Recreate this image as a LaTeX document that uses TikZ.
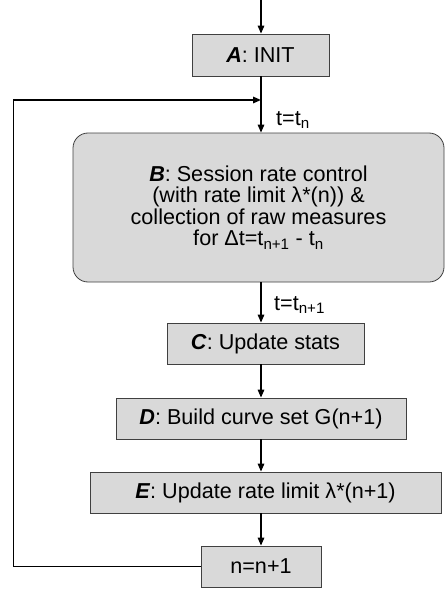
\documentclass[tikz,border=0pt]{standalone}
\usepackage{fontspec}
\setmainfont{Liberation Sans}
\usetikzlibrary{arrows.meta}
\begin{document}
\begin{tikzpicture}[x=1pt,y=-1pt,
  box/.style={draw=black!75,line width=0.8pt,fill=black!15,inner sep=0pt,align=center,
    font=\fontsize{21.6}{21.5}\selectfont},
  lbl/.style={inner sep=0pt,anchor=west,font=\fontsize{21.6}{21.5}\selectfont},
  arr/.style={line width=1.5pt,-{Triangle[length=8pt,width=6.5pt]}},
  loopline/.style={line width=1pt}]
\useasboundingbox (0,0) rectangle (446,591);
\coordinate (X) at (261,0);
\node[box,minimum width=137pt,minimum height=42pt] (A) at (260.5,55) {\textbf{\textit{A}}: INIT};
\node[box,rounded corners=15pt,minimum width=371pt,minimum height=149pt] (B) at (258.5,207.5)
  {\textbf{\textit{B}}: Session rate control\\(with rate limit λ*(n)) \&\\collection of raw measures\\for Δt=t\textsubscript{n+1} - t\textsubscript{n}};
\node[box,minimum width=197pt,minimum height=41pt] (C) at (265.5,343.5) {\textbf{\textit{C}}: Update stats};
\node[box,minimum width=290pt,minimum height=41pt] (D) at (261,418.5) {\textbf{\textit{D}}: Build curve set G(n+1)};
\node[box,minimum width=351pt,minimum height=41pt] (E) at (265.5,492.5) {\textbf{\textit{E}}: Update rate limit λ*(n+1)};
\node[box,minimum width=120pt,minimum height=41pt] (N) at (261,566.5) {n=n+1};
\node[lbl] (tn) at (276,120) {t=t\textsubscript{n}};
\node[lbl] (tn1) at (274,305) {t=t\textsubscript{n+1}};
\coordinate (J) at (261,100);
\coordinate (L1) at (13,100);
\draw[arr] (X) -- (A.north -| X);
\draw[arr] (A.south -| X) -- (B.north -| X);
\draw[arr] (B.south -| X) -- (C.north -| X);
\draw[arr] (C.south -| X) -- (D.north -| X);
\draw[arr] (D.south -| X) -- (E.north -| X);
\draw[arr] (E.south -| X) -- (N.north -| X);
\draw[loopline] (N.west) -| (L1);
\draw[arr] (L1) -- (J);
\end{tikzpicture}
\end{document}
